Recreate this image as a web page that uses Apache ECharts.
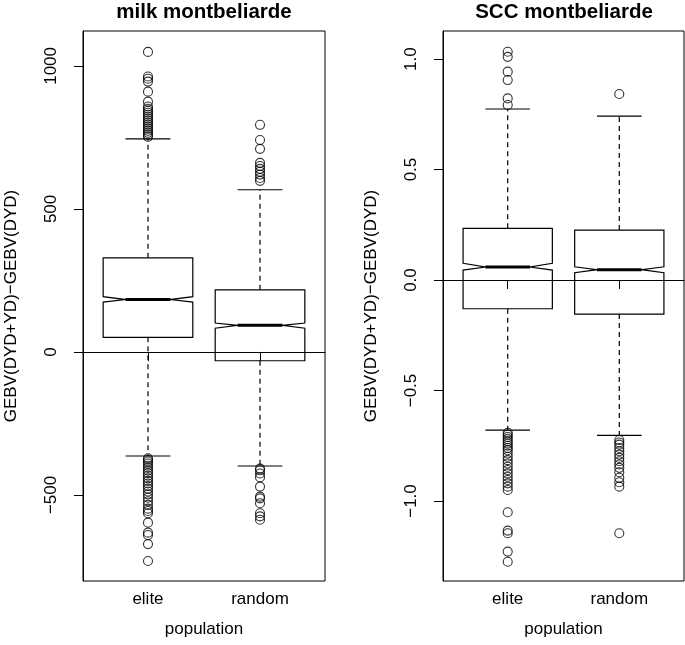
<!DOCTYPE html>
<html>
<head>
<meta charset="utf-8">
<script src="https://cdn.jsdelivr.net/npm/echarts@6/dist/echarts.min.js"></script>
<style>
html,body{margin:0;padding:0;background:#fff;}
#chart{width:685px;height:645px;}
</style>
</head>
<body>
<div id="chart"></div>
<script>
// ---- data ----
const categories = ['elite', 'random'];
const panelTitles = ['milk montbeliarde', 'SCC montbeliarde'];
const yAxisTitle = 'GEBV(DYD+YD)−GEBV(DYD)';
const xAxisTitle = 'population';

const milkTicks = [-500, 0, 500, 1000];
const sccTicks = [-1.0, -0.5, 0.0, 0.5, 1.0];

// box statistics (elite, random)
const milkLowerWhisker = [-364, -399];
const milkQ1 = [51, -31];
const milkNotchLow = [174, 83];
const milkMedian = [183, 93];
const milkNotchHigh = [193, 101];
const milkQ3 = [329, 217];
const milkUpperWhisker = [745, 567];

const sccLowerWhisker = [-0.679, -0.703];
const sccQ1 = [-0.130, -0.154];
const sccNotchLow = [0.045, 0.033];
const sccMedian = [0.059, 0.047];
const sccNotchHigh = [0.076, 0.060];
const sccQ3 = [0.234, 0.226];
const sccUpperWhisker = [0.774, 0.742];

// outliers
const milkEliteOutliers = [1049, 963, 955, 945, 910, 875, 858, 850, 843, 836, 829, 822, 815, 808, 801, 794, 787, 780, 773, 766, 759, 752,
  -372, -377, -383, -390, -398, -406, -415, -424, -433, -442, -451, -460, -469, -478, -488, -498, -510, -522, -535, -548, -556, -564, -597, -632, -640, -672, -731];
const milkRandomOutliers = [794, 741, 710, 661, 650, 640, 630, 620, 608, 598,
  -408, -414, -425, -438, -471, -506, -512, -529, -564, -575, -587];
const sccEliteOutliers = [1.033, 1.010, 0.943, 0.905, 0.822, 0.792,
  -0.691, -0.70, -0.71, -0.72, -0.73, -0.74, -0.75, -0.76, -0.77, -0.785, -0.80, -0.815, -0.83, -0.845, -0.86, -0.875, -0.89, -0.905, -0.92, -0.935, -0.950,
  -1.051, -1.134, -1.146, -1.229, -1.275];
const sccRandomOutliers = [0.842,
  -0.724, -0.735, -0.745, -0.76, -0.775, -0.79, -0.805, -0.82, -0.835, -0.85, -0.87, -0.895, -0.915, -0.935, -1.146];

// ---- build ----
const FONT = "'Liberation Sans', Arial, Helvetica, sans-serif";
function minusFmt(s) { return s.replace('-', '\u2212'); }

function boxData(lw, q1, nl, med, nh, q3, uw) {
  return categories.map((c, i) => [i + 1, lw[i], q1[i], nl[i], med[i], nh[i], q3[i], uw[i]]);
}

function renderBox(params, api) {
  const x = api.value(0);
  const lw = api.value(1), q1 = api.value(2), nl = api.value(3), med = api.value(4),
        nh = api.value(5), q3 = api.value(6), uw = api.value(7);
  const hw = 0.4;
  const p = (xx, yy) => api.coord([xx, yy]);
  const stroke = { stroke: '#000', lineWidth: 1.2, fill: null };
  const children = [
    { type: 'polygon', shape: { points: [
        p(x - hw, q1), p(x - hw, nl), p(x - hw / 2, med), p(x - hw, nh), p(x - hw, q3),
        p(x + hw, q3), p(x + hw, nh), p(x + hw / 2, med), p(x + hw, nl), p(x + hw, q1)
      ] }, style: { stroke: '#000', lineWidth: 1.2, fill: 'none' } },
    { type: 'line', shape: { x1: p(x - hw / 2, med)[0], y1: p(x, med)[1], x2: p(x + hw / 2, med)[0], y2: p(x, med)[1] },
      style: { stroke: '#000', lineWidth: 3 } },
    { type: 'line', shape: { x1: p(x, q3)[0], y1: p(x, q3)[1], x2: p(x, uw)[0], y2: p(x, uw)[1] },
      style: { stroke: '#000', lineWidth: 1.2, lineDash: [5, 4] } },
    { type: 'line', shape: { x1: p(x, q1)[0], y1: p(x, q1)[1], x2: p(x, lw)[0], y2: p(x, lw)[1] },
      style: { stroke: '#000', lineWidth: 1.2, lineDash: [5, 4] } },
    { type: 'line', shape: { x1: p(x - hw / 2, uw)[0], y1: p(x, uw)[1], x2: p(x + hw / 2, uw)[0], y2: p(x, uw)[1] },
      style: stroke },
    { type: 'line', shape: { x1: p(x - hw / 2, lw)[0], y1: p(x, lw)[1], x2: p(x + hw / 2, lw)[0], y2: p(x, lw)[1] },
      style: stroke }
  ];
  return { type: 'group', children: children };
}

function outlierPoints(eliteArr, randomArr) {
  return eliteArr.map(v => [1, v]).concat(randomArr.map(v => [2, v]));
}

const labelStyle = { color: '#000', fontFamily: FONT, fontSize: 17 };

function makeXAxis(gridIndex) {
  return {
    type: 'value', gridIndex: gridIndex, min: 0.42, max: 2.58,
    name: xAxisTitle, nameLocation: 'middle', nameGap: 40,
    nameTextStyle: labelStyle,
    axisLine: { show: true, lineStyle: { color: '#000', width: 1 } },
    axisTick: { show: true, length: 9, customValues: [1, 2], lineStyle: { color: '#000' } },
    axisLabel: Object.assign({ customValues: [1, 2], margin: 10,
      formatter: v => categories[Math.round(v) - 1] || '' }, labelStyle),
    splitLine: { show: false }
  };
}

function makeYAxis(gridIndex, min, max, ticks, fmt) {
  return {
    type: 'value', gridIndex: gridIndex, min: min, max: max,
    name: yAxisTitle, nameLocation: 'middle', nameGap: 63, nameRotate: 90,
    nameTextStyle: labelStyle,
    axisLine: { show: true, lineStyle: { color: '#000', width: 1 } },
    axisTick: { show: true, length: 9, customValues: ticks, lineStyle: { color: '#000' } },
    axisLabel: Object.assign({ customValues: ticks, rotate: 90, margin: 23, formatter: fmt }, labelStyle),
    splitLine: { show: false }
  };
}

const zeroLine = {
  silent: true, symbol: 'none', animation: false,
  label: { show: false },
  lineStyle: { color: '#000', width: 1, type: 'solid' },
  data: [{ yAxis: 0 }]
};

const scatterStyle = {
  symbol: 'circle', symbolSize: 9,
  itemStyle: { color: 'rgba(0,0,0,0)', borderColor: '#000', borderWidth: 1.1 }
};

const option = {
  animation: false,
  backgroundColor: '#fff',
  title: [
    { text: panelTitles[0], left: 204, top: 2, textAlign: 'center', padding: 0,
      textStyle: { fontFamily: FONT, fontSize: 20.5, fontWeight: 'bold', color: '#000' } },
    { text: panelTitles[1], left: 564, top: 2, textAlign: 'center', padding: 0,
      textStyle: { fontFamily: FONT, fontSize: 20.5, fontWeight: 'bold', color: '#000' } }
  ],
  grid: [
    { left: 83, top: 31, width: 242, height: 550, show: true, borderColor: '#000', borderWidth: 1, backgroundColor: 'transparent' },
    { left: 443, top: 31, width: 241, height: 550, show: true, borderColor: '#000', borderWidth: 1, backgroundColor: 'transparent' }
  ],
  xAxis: [makeXAxis(0), makeXAxis(1)],
  yAxis: [
    makeYAxis(0, -801, 1122, milkTicks, v => minusFmt(String(v))),
    makeYAxis(1, -1.362, 1.127, sccTicks, v => minusFmt(Number(v).toFixed(1)))
  ],
  series: [
    { type: 'custom', name: 'milk', xAxisIndex: 0, yAxisIndex: 0, renderItem: renderBox,
      data: boxData(milkLowerWhisker, milkQ1, milkNotchLow, milkMedian, milkNotchHigh, milkQ3, milkUpperWhisker),
      encode: { x: 0, y: [1, 2, 3, 4, 5, 6, 7] }, markLine: zeroLine, clip: false },
    Object.assign({ type: 'scatter', name: 'milk outliers', xAxisIndex: 0, yAxisIndex: 0,
      data: outlierPoints(milkEliteOutliers, milkRandomOutliers) }, scatterStyle),
    { type: 'custom', name: 'SCC', xAxisIndex: 1, yAxisIndex: 1, renderItem: renderBox,
      data: boxData(sccLowerWhisker, sccQ1, sccNotchLow, sccMedian, sccNotchHigh, sccQ3, sccUpperWhisker),
      encode: { x: 0, y: [1, 2, 3, 4, 5, 6, 7] }, markLine: zeroLine, clip: false },
    Object.assign({ type: 'scatter', name: 'SCC outliers', xAxisIndex: 1, yAxisIndex: 1,
      data: outlierPoints(sccEliteOutliers, sccRandomOutliers) }, scatterStyle)
  ]
};

const chart = echarts.init(document.getElementById('chart'), null, { renderer: 'canvas' });
chart.setOption(option);
</script>
</body>
</html>
